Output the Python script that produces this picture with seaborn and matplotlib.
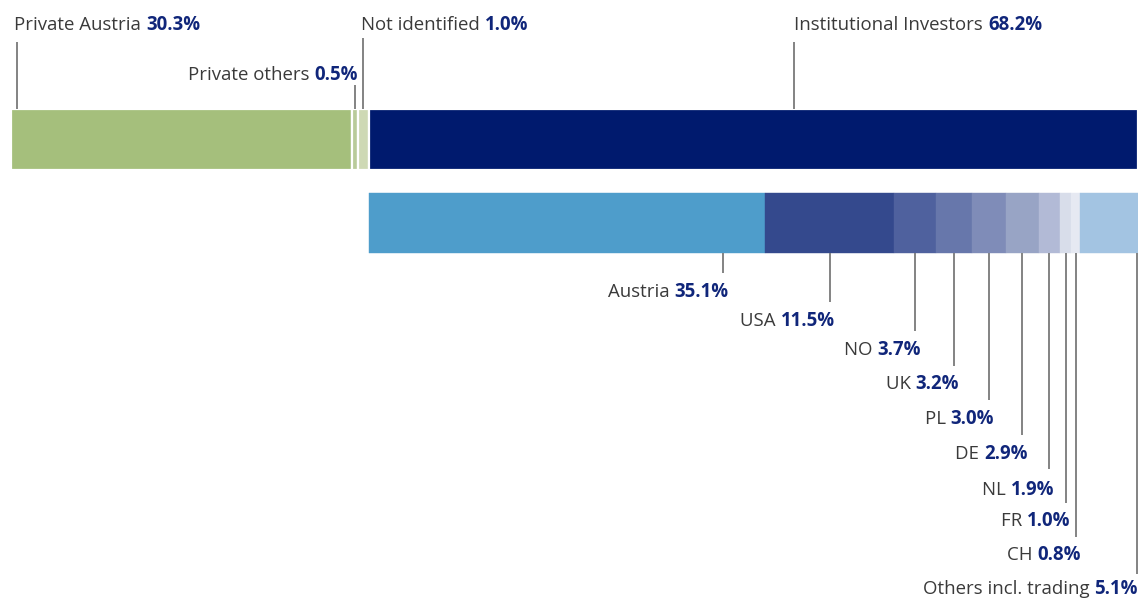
import matplotlib
matplotlib.use("Agg")
import matplotlib.pyplot as plt
import seaborn as sns
import pandas as pd

# ---- data ----
top_labels = ["Private Austria", "Private others", "Not identified", "Institutional Investors"]
top_values = [30.3, 0.5, 1.0, 68.2]
top_colors = ["#A5BF7C", "#B9CB9A", "#CED9B4", "#001A6E"]

inst_labels = ["Austria", "USA", "NO", "UK", "PL", "DE", "NL", "FR", "CH", "Others incl. trading"]
inst_values = [35.1, 11.5, 3.7, 3.2, 3.0, 2.9, 1.9, 1.0, 0.8, 5.1]
inst_colors = ["#4E9DCB", "#34498D", "#4F619E", "#6777AB", "#7F8CB8", "#98A4C5",
               "#B2BAD6", "#D8DDEA", "#E6E9F2", "#A3C4E2"]

NAME_COLOR = "#3A3A3A"
VAL_COLOR = "#10267A"
LINE_COLOR = "#7A7A7A"

sns.set_theme(style="white")
plt.rcParams["font.family"] = ["Open Sans", "DejaVu Sans"]

W, H = 1139, 599
AX_L, AX_W = 10.5, 1127.5
fig = plt.figure(figsize=(W / 100, H / 100), dpi=100)
ax = fig.add_axes([AX_L / W, 0, AX_W / W, 1])


def py(p):
    # pixel row -> category coordinate
    return (p - 139.5) / 83.5


# ---- bars ----
rows = []
start = 0.0
for lab, v, c in zip(top_labels, top_values, top_colors):
    rows.append(dict(row="total", name=lab, value=v, start=start, color=c, gap=True))
    start += v
start = sum(top_values[:3])
inst_start = start
for lab, v, c in zip(inst_labels, inst_values, inst_colors):
    rows.append(dict(row="inst", name=lab, value=v, start=start, color=c, gap=False))
    start += v
df = pd.DataFrame(rows)

for _, r in df.iterrows():
    sub = pd.DataFrame({"row": [r["row"]], "value": [r["value"]]})
    sns.barplot(data=sub, x="value", y="row", orient="h", order=["total", "inst"],
                left=r["start"], color=r["color"], width=0.73, ax=ax,
                saturation=1, edgecolor="white" if r["gap"] else r["color"],
                linewidth=1.6 if r["gap"] else 0.3)
ax.set_xlim(0, 100)
ax.set_ylim(py(H), py(0))
ax.axis("off")

fig.canvas.draw()
renderer = fig.canvas.get_renderer()
FS = 13.4


def label(x, y, name, val, ha):
    """Two-part label: name (light) + value (bold navy). x in data, y in px."""
    yy = py(y + 1.5)
    if ha == "left":
        t1 = ax.text(x, yy, name + " ", ha="left", va="center", fontsize=FS, color=NAME_COLOR)
        bb = t1.get_window_extent(renderer)
        x2 = ax.transData.inverted().transform((bb.x1, 0))[0]
        ax.text(x2, yy, val, ha="left", va="center", fontsize=FS, color=VAL_COLOR,
                fontweight="bold")
    else:
        t2 = ax.text(x, yy, val, ha="right", va="center", fontsize=FS, color=VAL_COLOR,
                     fontweight="bold")
        bb = t2.get_window_extent(renderer)
        x1 = ax.transData.inverted().transform((bb.x0, 0))[0]
        ax.text(x1, yy, name + " ", ha="right", va="center", fontsize=FS, color=NAME_COLOR)


def vline(x, y0, y1):
    ax.plot([x, x], [py(y0), py(y1)], color=LINE_COLOR, lw=1.3, solid_capstyle="butt")


# ---- top annotations ----
cum = [sum(top_values[:i]) for i in range(len(top_values))]
fmt = lambda v: f"{v:.1f}%"
# Private Austria: near left edge
x = cum[0] + top_values[0] * 0.02
vline(x, 42, 109)
label(x - 0.27, 24, top_labels[0], fmt(top_values[0]), "left")
# Private others
x = cum[1] + top_values[1] / 2
vline(x, 85, 109)
label(x + 0.3, 73, top_labels[1], fmt(top_values[1]), "right")
# Not identified
x = cum[2] + top_values[2] / 2
vline(x, 38, 109)
label(x - 0.18, 24, top_labels[2], fmt(top_values[2]), "left")
# Institutional
x = cum[3] + top_values[3] * 0.553
vline(x, 42, 109)
label(x, 24, top_labels[3], fmt(top_values[3]), "left")

# ---- institutional annotations ----
label_y = [290, 319, 348, 382, 417, 452, 488, 520, 553, 588]
line_end = [273, 302, 331, 366, 400, 435, 469, 503, 537, 574]
frac = [0.895, 0.5, 0.5, 0.5, 0.5, 0.5, 0.5, 0.5, 0.5, 0.98]
s = inst_start
for lab, v, fy, ly, le in zip(inst_labels, inst_values, frac, label_y, line_end):
    x = s + v * fy
    vline(x, 253, le)
    label(min(x + 0.45, 99.95), ly, lab, fmt(v), "right")
    s += v

fig.savefig("out.png", dpi=100, facecolor="white")
